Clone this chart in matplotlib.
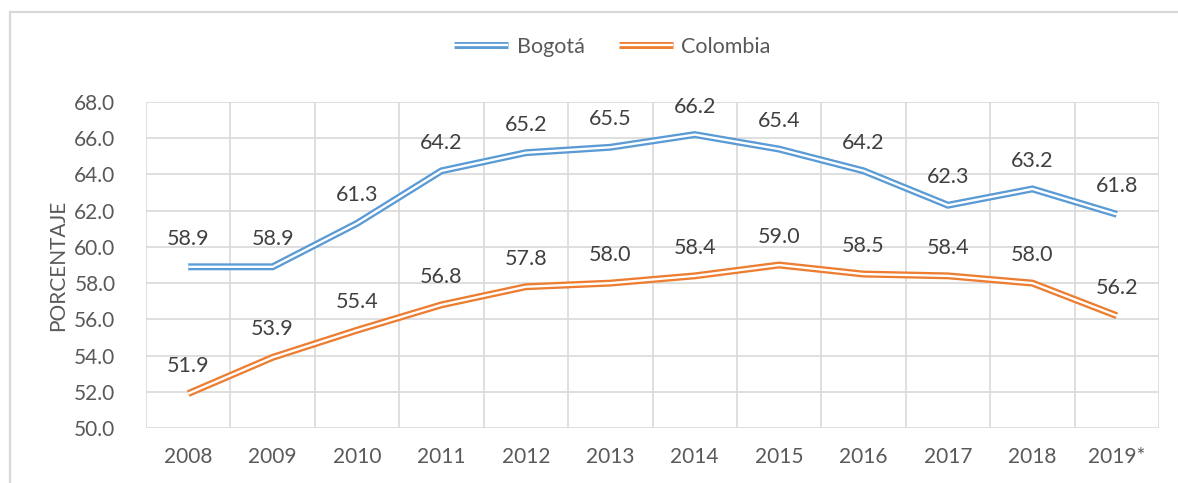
import matplotlib
matplotlib.use("Agg")
import matplotlib.pyplot as plt
import matplotlib.patheffects as pe
from matplotlib.patches import Rectangle
import numpy as np

years = ["2008", "2009", "2010", "2011", "2012", "2013", "2014", "2015",
         "2016", "2017", "2018", "2019*"]
bogota = [58.9, 58.9, 61.3, 64.2, 65.2, 65.5, 66.2, 65.4, 64.2, 62.3, 63.2, 61.8]
colombia = [51.9, 53.9, 55.4, 56.8, 57.8, 58.0, 58.4, 59.0, 58.5, 58.4, 58.0, 56.2]

plt.rcParams['font.family'] = ['Lato', 'DejaVu Sans']
TXT = '#595959'
GRID = '#d9d9d9'
C_BOG = '#5b9bd5'
C_COL = '#ed7d31'

fig = plt.figure(figsize=(11.78, 4.83), dpi=100)
ax = fig.add_axes([146/1178, 1-428/483, (1159-146)/1178, (428-102)/483])

x = np.arange(len(years))
for vals, col, lab in [(bogota, C_BOG, 'Bogotá'), (colombia, C_COL, 'Colombia')]:
    ax.plot(x, vals, color='white', lw=1.7, label=lab, solid_joinstyle='miter',
            solid_capstyle='butt',
            path_effects=[pe.Stroke(linewidth=5.0, foreground=col, capstyle='butt'),
                          pe.Normal()])
    for xi, v in zip(x, vals):
        ax.annotate(f"{v:.1f}", (xi, v), xytext=(0, 13), textcoords='offset points',
                    ha='center', va='bottom', fontsize=15.5, color='#404040')

ax.set_xlim(-0.5, len(years) - 0.5)
ax.set_ylim(50, 68)
ax.set_yticks(np.arange(50, 68.1, 2))
ax.set_yticklabels([f"{v:.1f}" for v in np.arange(50, 68.1, 2)])
ax.set_xticks(x)
ax.set_xticklabels(years)
ax.set_xticks(np.arange(-0.5, len(years), 1), minor=True)
ax.tick_params(axis='both', which='both', length=0, labelsize=15, colors=TXT)
ax.tick_params(axis='y', pad=22)
ax.tick_params(axis='x', pad=14)
ax.grid(True, axis='y', which='major', color=GRID, lw=1.2)
ax.grid(True, axis='x', which='minor', color=GRID, lw=1.2)
ax.grid(False, axis='x', which='major')
ax.set_axisbelow(True)
for s in ax.spines.values():
    s.set_visible(False)

fig.text(58/1178, 1-265/483, 'PORCENTAJE', rotation=90, ha='center', va='center',
         fontsize=15, color=TXT)

leg = fig.legend(loc='center', bbox_to_anchor=(0.52, 1-47/483), ncol=2, frameon=False,
                 fontsize=15.5, labelcolor=TXT, handlelength=2.5, columnspacing=1.6,
                 handletextpad=0.4)

fig.patches.append(Rectangle((10/1178, -0.1), 1.2, 1.1 - 12/483, transform=fig.transFigure,
                             fill=False, edgecolor=GRID, lw=1.6))

fig.savefig('out.png', dpi=100)
